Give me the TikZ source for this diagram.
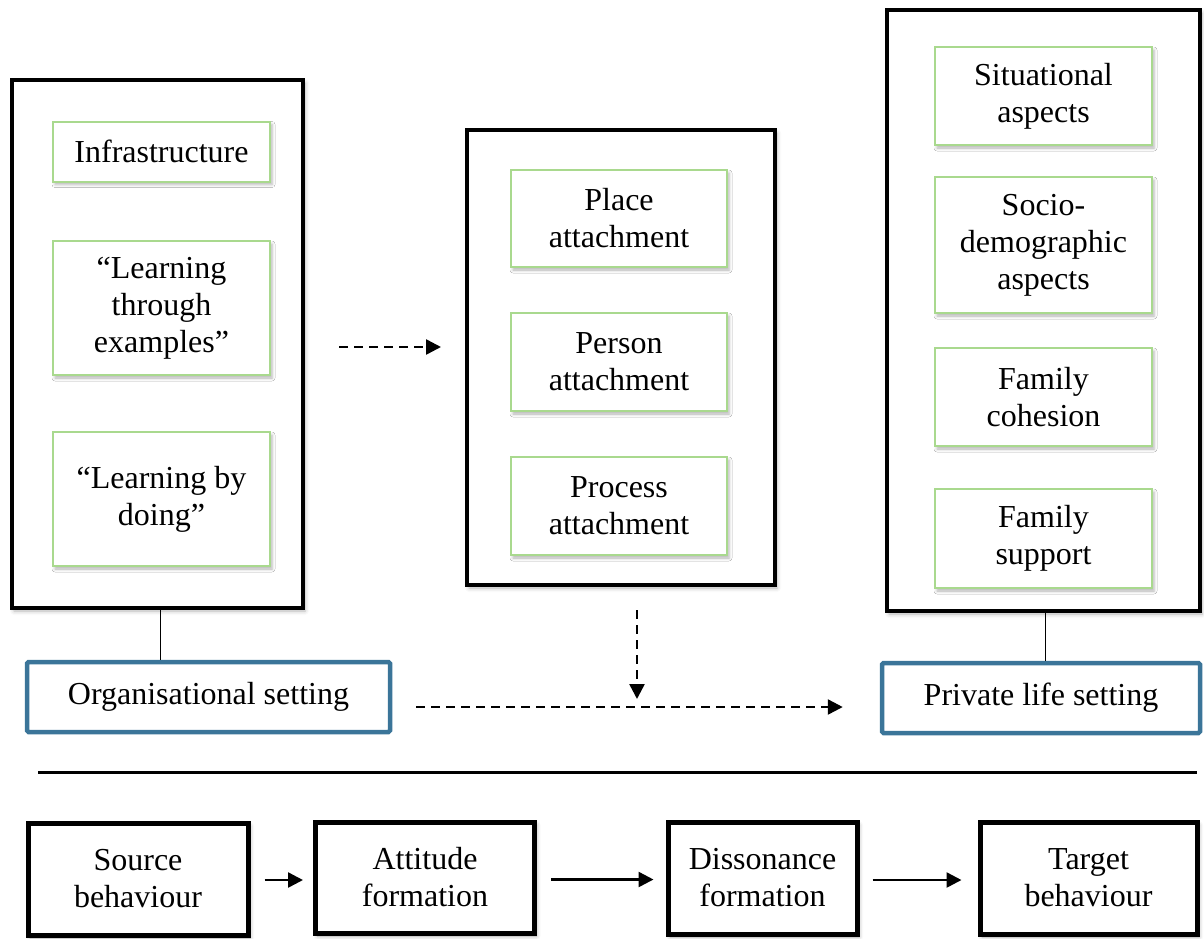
\documentclass[tikz,border=0pt]{standalone}
\usepackage{fontspec}
\setmainfont{Liberation Serif}
\usetikzlibrary{arrows.meta,shadows.blur}
\definecolor{gline}{HTML}{A9D98E}
\definecolor{bline}{HTML}{3B7599}
\tikzset{
  bigbox/.style={draw=black, line width=4pt, fill=white, blur shadow={shadow xshift=2pt, shadow yshift=-3pt, shadow blur radius=4pt, shadow opacity=30}},
  gbox/.style={draw=gline, line width=2pt, fill=white, align=center, font=\fontsize{32}{37}\selectfont, blur shadow={shadow xshift=2pt, shadow yshift=-3pt, shadow blur radius=3pt, shadow opacity=30}},
  setbox/.style={draw=bline, line width=4.5pt, rounded corners=1.5pt, fill=white, align=center, font=\fontsize{32}{37}\selectfont},
  stagebox/.style={draw=black, line width=5pt, fill=white, align=center, font=\fontsize{32}{37}\selectfont, blur shadow={shadow xshift=2pt, shadow yshift=-3pt, shadow blur radius=4pt, shadow opacity=35}},
  dasharrow/.style={line width=2.5pt, dash pattern=on 9pt off 6pt, -{Triangle[length=15pt,width=15pt]}},
  solidarrow/.style={line width=2.5pt, -{Triangle[length=15pt,width=15pt]}},
  thinline/.style={line width=1pt}
}
\begin{document}
\begin{tikzpicture}[x=1pt,y=-1pt]
\useasboundingbox (0,0) rectangle (1204,938);
% big containers
\node[bigbox, minimum width=291pt, minimum height=528pt] (L) at (157.5,344) {};
\node[bigbox, minimum width=308pt, minimum height=455pt] (M) at (621,357.5) {};
\node[bigbox, minimum width=313pt, minimum height=601pt] (R) at (1043.5,310.5) {};
% left items
\node[gbox, minimum width=217pt, minimum height=60pt] (infra) at (161.5,151.5) {Infrastructure};
\node[gbox, minimum width=217pt, minimum height=134pt] (lte) at (161.5,308) {“Learning\\through\\examples”};
\node[gbox, minimum width=217pt, minimum height=134pt] (lbd) at (161.5,499) {“Learning by\\doing”};
% middle items
\node[gbox, minimum width=216pt, minimum height=97pt] (place) at (619,218.5) {Place\\attachment};
\node[gbox, minimum width=216pt, minimum height=98pt] (person) at (619,362) {Person\\attachment};
\node[gbox, minimum width=216pt, minimum height=98pt] (process) at (619,506) {Process\\attachment};
% right items
\node[gbox, minimum width=217pt, minimum height=98pt] (sit) at (1043.5,96) {Situational\\aspects};
\node[gbox, minimum width=217pt, minimum height=136pt] (socio) at (1043.5,245) {Socio-\\demographic\\aspects};
\node[gbox, minimum width=217pt, minimum height=98pt] (coh) at (1043.5,397) {Family\\cohesion};
\node[gbox, minimum width=217pt, minimum height=99pt] (sup) at (1043.5,538.5) {Family\\support};
% settings
\node[setbox, minimum width=363pt, minimum height=70pt] (O) at (208.5,697) {Organisational setting};
\node[setbox, minimum width=318pt, minimum height=70pt] (P) at (1041,698) {Private life setting};
% connectors
\draw[thinline] ([xshift=2.5pt]L.south) -- ([xshift=2.5pt]L.south |- O.north);
\draw[thinline] ([xshift=1.5pt]R.south) -- ([xshift=1.5pt]R.south |- P.north);
\draw[dasharrow, shorten <=34pt, shorten >=24pt] ([yshift=-3pt]L.east) -- ([yshift=-3pt]L.east -| M.west);
\coordinate (J) at (637,707);
\draw[dasharrow, shorten <=23pt, shorten >=8pt] ([xshift=16pt]M.south) -- (J);
\draw[dasharrow, shorten <=24pt, shorten >=37pt] ([yshift=-10pt]O.east) -- ([yshift=-10pt]O.east -| P.west);
% separator
\coordinate (s1) at (38,772);
\coordinate (s2) at (1197,772);
\draw[line width=3pt] (s1) -- (s2);
% stages
\node[stagebox, minimum width=220pt, minimum height=112pt] (src) at (138,879) {Source\\behaviour};
\node[stagebox, minimum width=219pt, minimum height=111pt] (att) at (425,877.5) {Attitude\\formation};
\node[stagebox, minimum width=189pt, minimum height=112pt] (dis) at (762.5,878) {Dissonance\\formation};
\node[stagebox, minimum width=217pt, minimum height=112pt] (tgt) at (1088.5,878) {Target\\behaviour};
\draw[solidarrow, shorten <=14pt, shorten >=10pt] ([yshift=-1pt]src.east) -- ([yshift=-1pt]src.east -| att.west);
\draw[solidarrow, shorten <=14pt, shorten >=12pt] ([yshift=-2pt]att.east) -- ([yshift=-2pt]att.east -| dis.west);
\draw[solidarrow, shorten <=13pt, shorten >=16pt] ([yshift=-2pt]dis.east) -- ([yshift=-2pt]dis.east -| tgt.west);
\end{tikzpicture}
\end{document}
